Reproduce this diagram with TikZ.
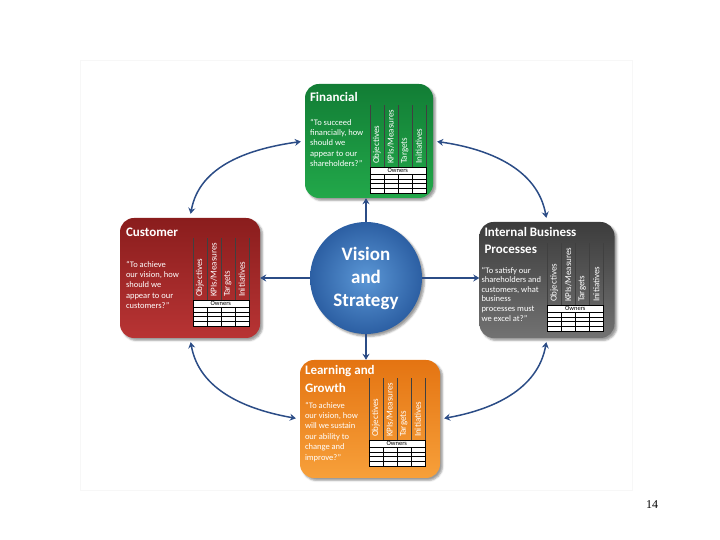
\documentclass[tikz,border=0pt]{standalone}
\usepackage{fontspec}
\setmainfont{Carlito}
\newfontfamily\pagefont{Liberation Serif}
\usepackage{tikz}
\usetikzlibrary{positioning}
\usetikzlibrary{arrows.meta}
\usetikzlibrary{shadows.blur}
\definecolor{arrowblue}{HTML}{2B4C86}
\definecolor{fintop}{HTML}{127D35}
\definecolor{finbot}{HTML}{22A84A}
\definecolor{custtop}{HTML}{8A1D1D}
\definecolor{custbot}{HTML}{B83434}
\definecolor{inttop}{HTML}{3C3C3C}
\definecolor{intbot}{HTML}{727272}
\definecolor{learntop}{HTML}{E47412}
\definecolor{learnbot}{HTML}{F7A03A}
\definecolor{visin}{HTML}{5B97D6}
\definecolor{visout}{HTML}{2C5FA3}

\begin{document}
\begin{tikzpicture}[x=1pt,y=1pt,
  persp/.style = {rounded corners=14pt,blur shadow,inner sep=0pt},
  title/.style = {font=\bfseries\fontsize{13}{17}\selectfont,text=white,
        align=left,inner sep=0pt},
  quote/.style = {font=\fontsize{8.5}{10.4}\selectfont,text=white,
        align=left,inner sep=0pt},
  kpilabel/.style = {rotate=90,anchor=west,inner sep=0pt,text=white!90,
        font=\fontsize{9}{9}\selectfont},
  vision/.style = {circle,minimum size=112pt,inner color=visin,outer color=visout,
        blur shadow,text=white,align=center,
        font=\bfseries\fontsize{19}{23}\selectfont},
  kpigrid/.pic = {
    \foreach \c in {0,14,28,42,56}
      \draw[black!75,line width=0.6pt] (\c,0) -- (\c,62);
    \foreach \lab [count=\i] in {Objectives,KPIs/Measures,Targets,Initiatives}
      \node[kpilabel] at (\i*14-7,3) {\lab};
    \draw[fill=white,line width=0.5pt] (0,0) rectangle (56,-26);
    \draw (0,-7) -- (56,-7);
    \foreach \r in {-11.75,-16.5,-21.25}
      \draw (0,\r) -- (56,\r);
    \foreach \c in {14,28,42}
      \draw (\c,-7) -- (\c,-26);
    \node[font=\fontsize{6.5}{7}\selectfont,inner sep=0pt] at (28,-3.5) {Owners};
  }]
 \useasboundingbox (0,0) rectangle (720,540);
 \draw[black!3] (80,50) rectangle (632,480);

 % the four perspectives
 \node[persp,top color=fintop,bottom color=finbot,
       minimum width=128pt,minimum height=114pt] (fin) at (369,399) {};
 \node[persp,top color=custtop,bottom color=custbot,
       minimum width=140pt,minimum height=120pt] (cust) at (190,262) {};
 \node[persp,top color=inttop,bottom color=intbot,
       minimum width=135pt,minimum height=116pt] (int) at (547,260) {};
 \node[persp,top color=learntop,bottom color=learnbot,
       minimum width=140pt,minimum height=118pt] (learn) at (370,121) {};

 \node[vision] (vis) at (366,262) {Vision\\and\\Strategy};

 \node[title,below right=8pt and 5pt of fin.north west] (fintitle) {Financial};
 \node[quote,below right=35pt and 5pt of fin.north west] (finquote)
   {“To succeed\\financially, how\\should we\\appear to our\\shareholders?”};
 \pic at ([shift={(65,31)}]fin.south west) {kpigrid};

 \node[title,below right=10pt and 6pt of cust.north west] (custtitle) {Customer};
 \node[quote,below right=43pt and 6pt of cust.north west] (custquote)
   {“To achieve\\our vision, how\\should we\\appear to our\\customers?”};
 \pic at ([shift={(73,38)}]cust.south west) {kpigrid};

 \node[title,below right=5pt and 5pt of int.north west] (inttitle)
   {Internal Business\\Processes};
 \node[quote,font=\fontsize{8.5}{9.6}\selectfont,
       below right=45pt and 2pt of int.north west] (intquote)
   {“To satisfy our\\shareholders and\\customers, what\\business\\processes must\\we excel at?”};
 \pic at ([shift={(68,33)}]int.south west) {kpigrid};

 \node[title,font=\bfseries\fontsize{13}{18}\selectfont,
       below right=5pt and 5pt of learn.north west] (learntitle)
   {Learning and\\Growth};
 \node[quote,below right=42pt and 5pt of learn.north west] (learnquote)
   {“To achieve\\our vision, how\\will we sustain\\our ability to\\change and\\improve?”};
 \pic at ([shift={(69,38)}]learn.south west) {kpigrid};

 \node[font=\pagefont\fontsize{12}{14}\selectfont] (page) at (652,35) {14};

 \begin{scope}[arrowblue,line width=1.5pt,
   -{Stealth[length=6pt,width=7pt,inset=2pt]}]
  \path
  (vis) edge (vis |- fin.south)
  (vis) edge (vis -| cust.east)
  (vis) edge (vis -| int.west)
  (vis) edge (vis |- learn.north);
 \end{scope}
 \begin{scope}[arrowblue,line width=1.5pt,shorten <=4pt,shorten >=4pt,
   {Stealth[length=6pt,width=7pt,inset=2pt]}-{Stealth[length=6pt,width=7pt,inset=2pt]}]
  \path
  (fin.west) edge[out=188,in=80] (cust.north)
  (fin.east) edge[out=-8,in=100] (int.north)
  (cust.south) edge[out=-80,in=170] (learn.west)
  (int.south) edge[out=-100,in=10] (learn.east);
 \end{scope}
\end{tikzpicture}
\end{document}
